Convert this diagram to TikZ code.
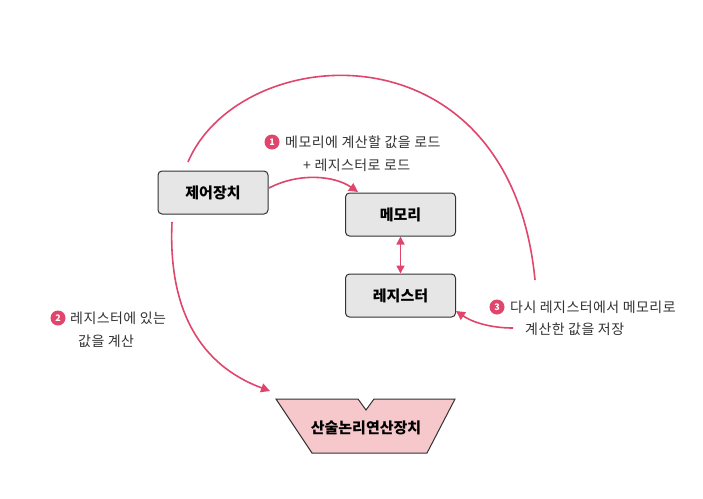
\documentclass[tikz,border=0pt]{standalone}
\usepackage{fontspec}
\setmainfont{Noto Sans CJK KR}
\newfontfamily\lblfont[LetterSpace=3]{Noto Sans CJK KR}
\usetikzlibrary{arrows.meta}
\definecolor{pinkline}{HTML}{E0456C}
\definecolor{boxfill}{HTML}{E6E6E6}
\definecolor{alufill}{HTML}{F6C8CC}
\definecolor{ink}{HTML}{333333}
\tikzset{
  unit/.style={draw=ink, line width=1pt, fill=boxfill, rounded corners=4pt, minimum width=110pt, minimum height=43pt, font=\fontsize{15}{17}\selectfont\bfseries, text=black},
  conn/.style={draw=pinkline, line width=1.6pt, -{Triangle[length=9pt,width=9pt]}},
  plainconn/.style={draw=pinkline, line width=1.6pt},
  badge/.style={circle, fill=pinkline, text=white, inner sep=0pt, minimum size=15pt, font=\fontsize{9}{9}\selectfont\bfseries},
  lbl/.style={anchor=west, inner sep=0pt, font=\lblfont\fontsize{14}{16}\selectfont, text=ink}
}
\begin{document}
\begin{tikzpicture}[x=1pt,y=-1pt]
\useasboundingbox[fill=white] (0,0) rectangle (703,498);
% units
\node[unit] (ctrl) at (213,192.5) {제어장치};
\node[unit] (mem) at (400.5,214.5) {메모리};
\node[unit] (reg) at (400.5,295.5) {레지스터};
% ALU
\draw[draw=ink, line width=1pt, fill=alufill] (276,399) -- (358,399) -- (366,410) -- (374,399) -- (455,399) -- (427,453) -- (312,453) -- cycle;
\node[font=\fontsize{15}{17}\selectfont\bfseries, text=black] (alu) at (366,428) {산술논리연산장치};
% coordinates
\coordinate (arcstart) at (188,162);
\coordinate (arcend) at (535,280);
\coordinate (threestart) at (513,328);
\coordinate (memin) at (358,192);
\coordinate (ctrlout) at (269,188);
\coordinate (ctrldown) at (172,222);
\coordinate (aluin) at (270,391);
\coordinate (regin) at (456,311);
% connectors
\draw[plainconn] (arcstart) .. controls (240,40) and (510,20) .. (arcend);
\draw[conn] (ctrlout) .. controls (300,172) and (335,176) .. (memin);
\draw[draw=pinkline, line width=1.6pt, {Triangle[length=8pt,width=8pt]}-{Triangle[length=8pt,width=8pt]}] (mem.south) -- (reg.north);
\draw[conn] (ctrldown) .. controls (168,310) and (200,365) .. (aluin);
\draw[conn] (threestart) .. controls (490,328) and (472,322) .. (regin);
% labels
\node[badge] (b1) at (272,142) {1};
\node[lbl] (t1a) at (285,142) {메모리에 계산할 값을 로드};
\node[lbl] (t1b) at (303,165) {+ 레지스터로 로드};
\node[badge] (b2) at (58,318) {2};
\node[lbl] (t2a) at (70,318) {레지스터에 있는};
\node[lbl] (t2b) at (78,341) {값을 계산};
\node[badge] (b3) at (497,307) {3};
\node[lbl] (t3a) at (510,307) {다시 레지스터에서 메모리로};
\node[lbl] (t3b) at (525,329) {계산한 값을 저장};
\end{tikzpicture}
\end{document}
